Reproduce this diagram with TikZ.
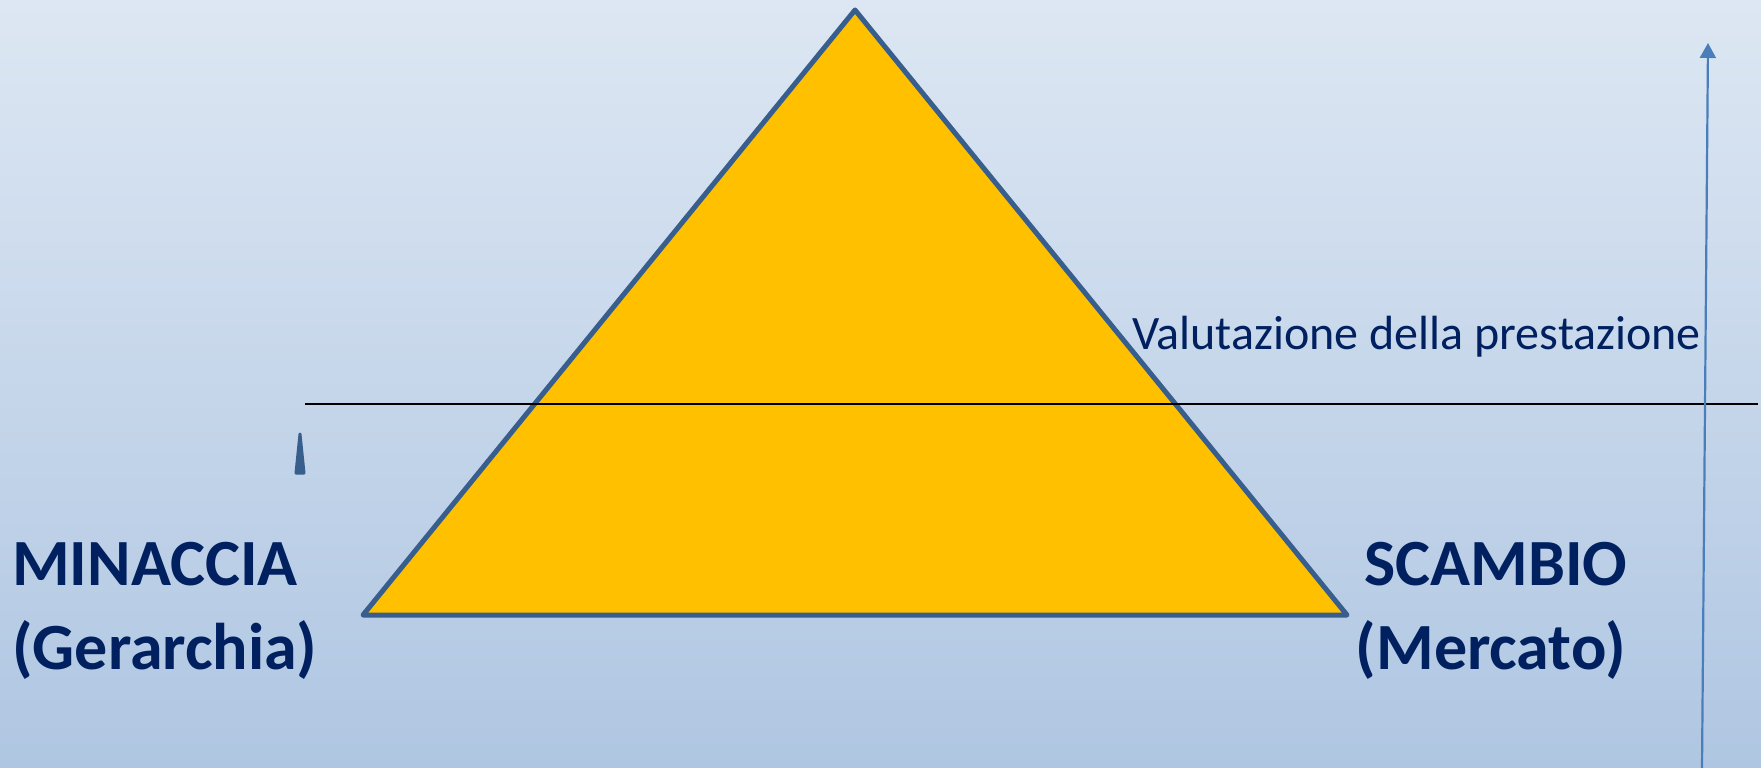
\documentclass[tikz,border=0pt]{standalone}
\usepackage{fontspec}
\setmainfont{Carlito}
\usetikzlibrary{arrows.meta}
\definecolor{bgtop}{RGB}{221,231,243}
\definecolor{bgbot}{RGB}{175,198,226}
\definecolor{triedge}{RGB}{56,94,141}
\definecolor{trifill}{RGB}{255,192,0}
\definecolor{navy}{RGB}{0,32,96}
\definecolor{arrowblue}{RGB}{74,126,187}
\tikzset{
  bigtxt/.style={font=\fontsize{66}{75}\selectfont\bfseries, text=navy, inner sep=0pt, align=left},
  smalltxt/.style={font=\fontsize{48}{58}\selectfont, text=navy, inner sep=0pt},
}
\begin{document}
\begin{tikzpicture}[x=1pt,y=-1pt]
\shade[top color=bgtop, bottom color=bgbot] (0,0) rectangle (1761,768);
\useasboundingbox (0,0) rectangle (1761,768);
% triangle
\coordinate (apex) at (855,10);
\coordinate (bl) at (363,615);
\coordinate (br) at (1347,615);
\filldraw[fill=trifill, draw=triedge, line width=5pt, line join=round] (apex) -- (br) -- (bl) -- cycle;
% horizontal line
\coordinate (hl) at (305,404);
\coordinate (hr) at (1758,404);
\draw[black, line width=1.6pt] (hl) -- (hr);
% right arrow
\coordinate (ab) at (1702,768);
\coordinate (at) at (1708,43);
\draw[arrowblue, line width=2.2pt, -{Triangle[length=15pt,width=16pt]}] (ab) -- (at);
% small wedge
\filldraw[triedge, line width=3pt, line join=round] (296,473) -- (300,434) -- (304,473) -- cycle;
% texts
\node[smalltxt, anchor=base west] (val) at (1132,349) {Valutazione della prestazione};
\node[bigtxt, anchor=base west] (min) at (12,585) {MINACCIA};
\node[bigtxt, anchor=base west] (ger) at (12,669) {(Gerarchia)};
\node[bigtxt, anchor=base] (sca) at (1496,585) {SCAMBIO};
\node[bigtxt, anchor=base] (mer) at (1491,669) {(Mercato)};
\end{tikzpicture}
\end{document}
